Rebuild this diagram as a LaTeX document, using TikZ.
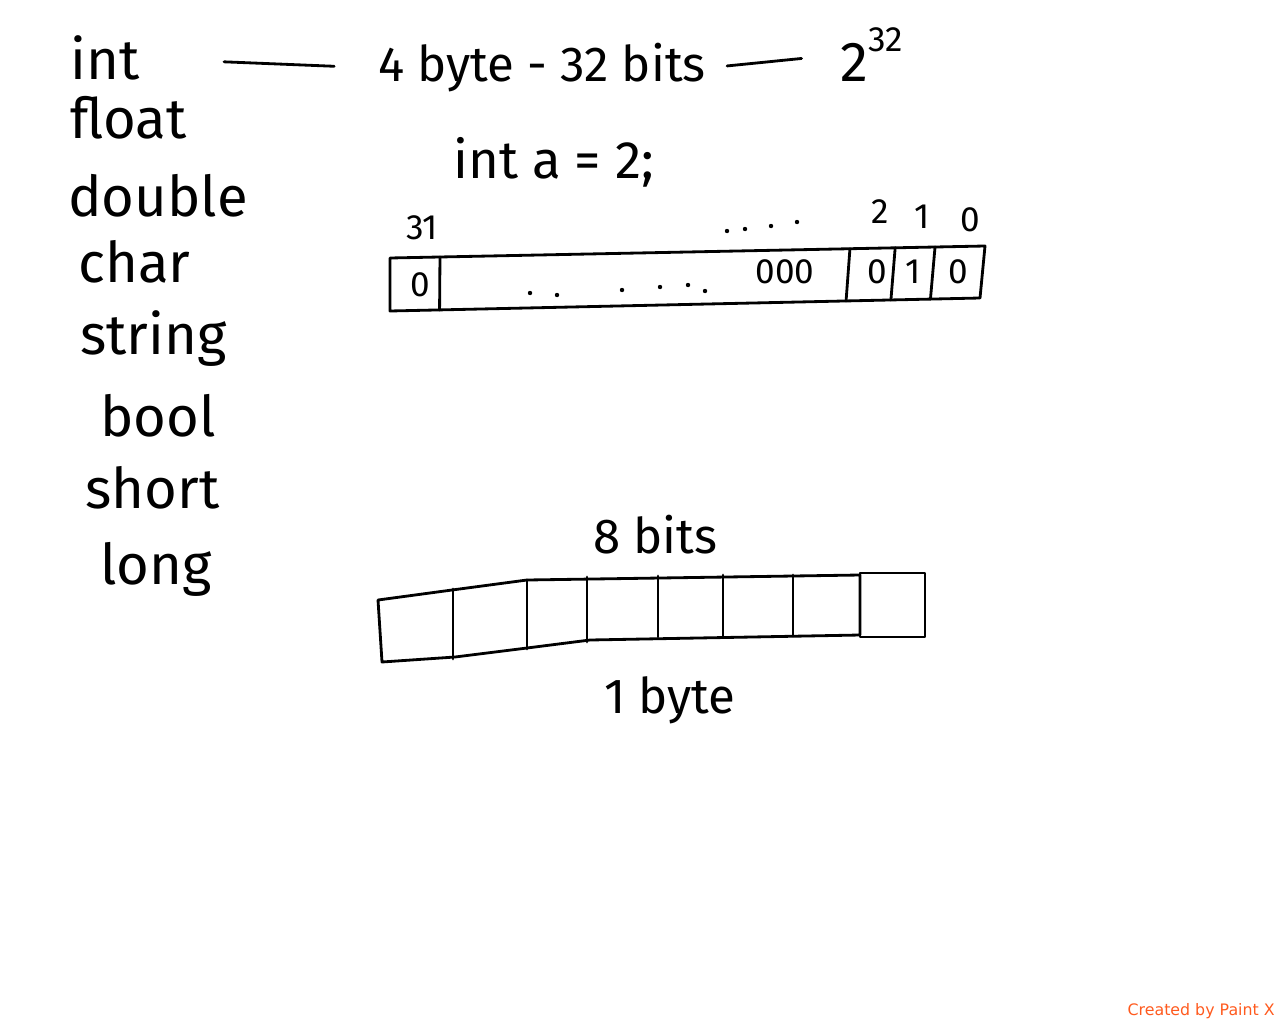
\documentclass[tikz,border=0pt]{standalone}
\usepackage{fontspec}
\setmainfont{Fira Sans}
\newfontfamily\paintfont{DejaVu Sans}
\usepackage{xcolor}
\definecolor{paintorange}{HTML}{FF5A1E}
\usetikzlibrary{calc}

\tikzset{
  hand/.style={anchor=base west, inner sep=0pt, font=\fontsize{32}{36}\selectfont},
  label/.style={inner sep=0pt, font=\fontsize{28}{32}\selectfont},
  bitnum/.style={inner sep=0pt, font=\fontsize{20}{24}\selectfont},
  stroke/.style={line width=1.6pt, line cap=round, line join=round}
}

\begin{document}
\begin{tikzpicture}[x=0.02cm, y=-0.02cm]
\useasboundingbox (0,0) rectangle (1280,1024);

% types
\node[hand] (int) at (70,80) {int};
\node[hand] (float) at (70,138) {float};
\node[hand] (double) at (68,216) {double};
\node[hand] (char) at (78,282) {char};
\node[hand] (string) at (80,354) {string};
\node[hand] (bool) at (100,436) {bool};
\node[hand] (short) at (85,508) {short};
\node[hand] (long) at (100,584) {long};

% size of int
\node[hand, font=\fontsize{28}{32}\selectfont] (size) at (378,82) {4 byte - 32 bits};
\node[hand, font=\fontsize{32}{36}\selectfont] (pow) at (840,82) {2\raisebox{0.55em}{\fontsize{20}{24}\selectfont 32}};
\draw[stroke, shorten <=48pt, shorten >=25pt] (int.east) -- (size.west);
\draw[stroke, shorten <=12pt, shorten >=22pt] (size.east) -- (pow.west);

\node[hand, font=\fontsize{30}{34}\selectfont] (decl) at (453,178) {int a = 2;};

% 32 bit register
\coordinate (tl) at (390,258);
\coordinate (tr) at (985,246);
\coordinate (br) at (980,298);
\coordinate (bl) at (390,311);
\draw[stroke] (tl) -- (tr) -- (br) -- (bl) -- cycle;
\foreach \t in {0.084,0.773,0.849,0.916}
  \draw[stroke] ($(tl)!\t!(tr)$) -- ($(bl)!\t!(br)$);

\node[bitnum] (b31) at (422,228) {31};
\node[bitnum] (b2) at (880,212) {2};
\node[bitnum] (b1) at (922,217) {1};
\node[bitnum] (b0) at (970,220) {0};
\foreach \x/\y in {727/231,745/229,771/226,797/222}
  \fill (\x,\y) circle (2.2);

\node[bitnum] (v31) at (420,285) {0};
\node[bitnum] (vzero) at (785,272) {000};
\node[bitnum] (v2) at (877,272) {0};
\node[bitnum] (v1) at (913,272) {1};
\node[bitnum] (v0) at (958,272) {0};
\foreach \x/\y in {530/293,557/295,622/290,660/287,688/285,705/291}
  \fill (\x,\y) circle (2.2);

% 8 bit byte
\node[label] (bits) at (655,535) {8 bits};
\draw[stroke] (378,600) -- (452,590) -- (527,580) -- (860,575) -- (860,635)
  -- (590,640) -- (527,648) -- (455,657) -- (382,662) -- cycle;
\draw[stroke] (860,573) rectangle (925,637);
\foreach \x/\a/\b in {453/589/659,527/580/649,587/577/642,658/576/637,723/575/636,793/575/636}
  \draw[stroke] (\x,\a) -- (\x,\b);
\node[label] (byte) at (670,700) {1 byte};

\node[anchor=base east, inner sep=0pt, text=paintorange, font=\paintfont\fontsize{9}{11}\selectfont] (mark) at (1275,1015) {Created by Paint X};
\end{tikzpicture}
\end{document}
